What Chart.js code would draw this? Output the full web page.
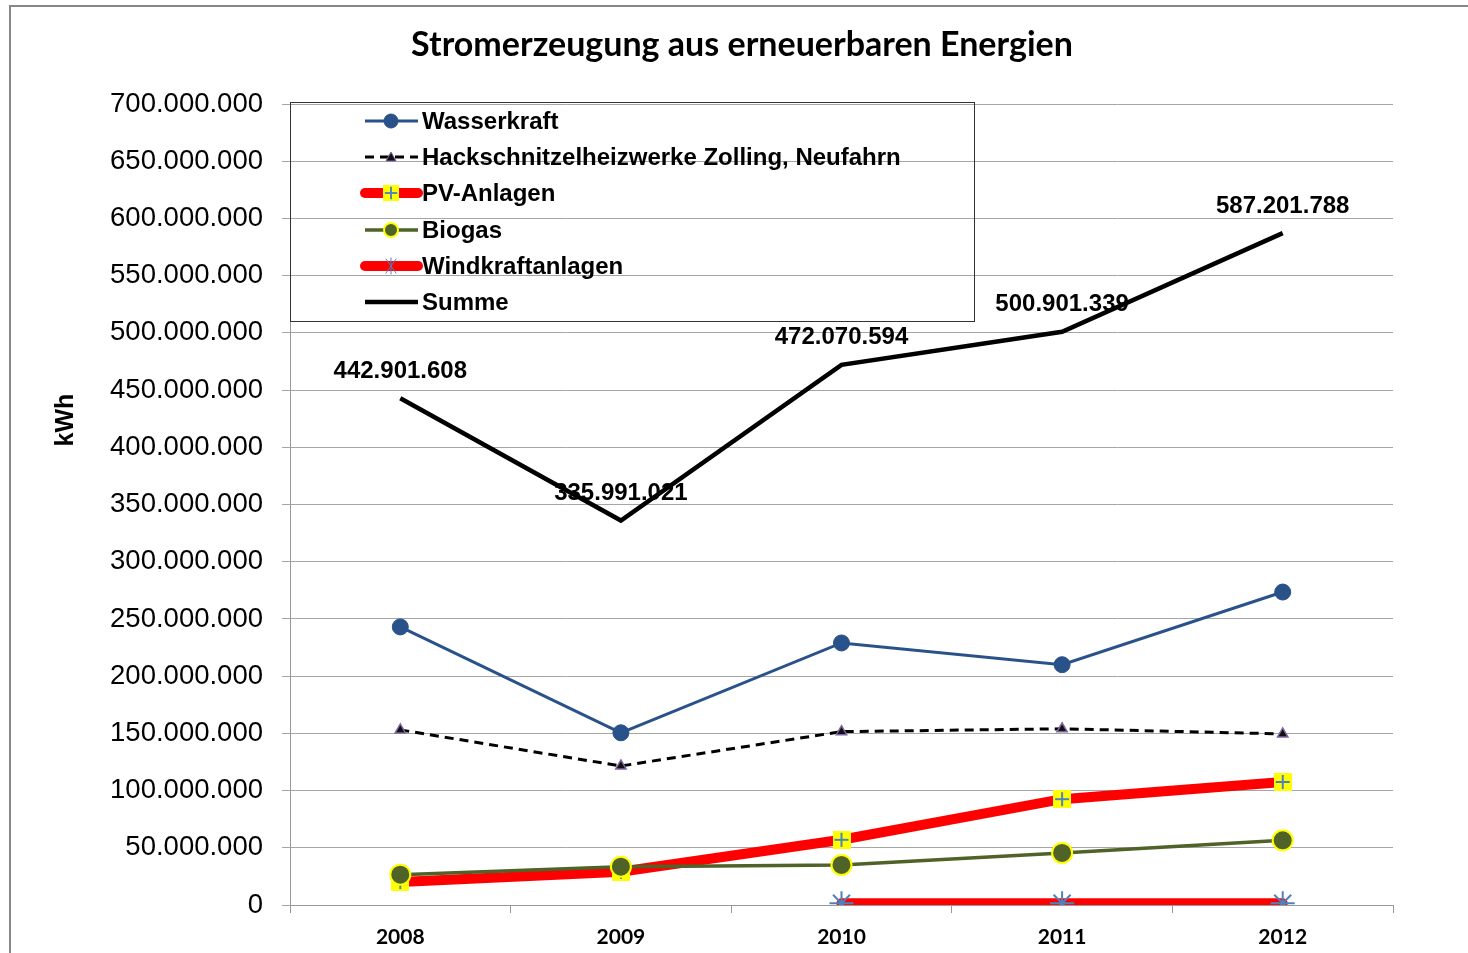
<!DOCTYPE html>
<html>
<head>
<meta charset="utf-8">
<script src="https://cdn.jsdelivr.net/npm/chart.js@4"></script>
<style>
  html, body { margin: 0; padding: 0; background: #fff; }
  #wrap { width: 1468px; height: 953px; }
</style>
</head>
<body>
<div id="wrap"><canvas id="lineChart" width="1468" height="953"></canvas></div>
<script>
// values
const years = ['2008', '2009', '2010', '2011', '2012'];
const wasserkraft = [243000000, 150500000, 229000000, 210000000, 273500000];
const hackschnitzel = [153000000, 121500000, 151500000, 154000000, 149500000];
const pvAnlagen = [20000000, 29000000, 57000000, 92500000, 107500000];
const biogas = [26500000, 33500000, 35000000, 45500000, 56500000];
const windkraft = [null, null, 1500000, 1500000, 1500000];
const summe = [442901608, 335991021, 472070594, 500901339, 587201788];
const yTicks = [0, 50000000, 100000000, 150000000, 200000000, 250000000, 300000000, 350000000,
  400000000, 450000000, 500000000, 550000000, 600000000, 650000000, 700000000];

const seriesNames = ['Wasserkraft', 'Hackschnitzelheizwerke Zolling, Neufahrn', 'PV-Anlagen', 'Biogas', 'Windkraftanlagen', 'Summe'];

function fmt(v) {
  return String(Math.round(v)).replace(/\B(?=(\d{3})+(?!\d))/g, '.');
}

// yellow square with blue plus (PV marker)
function pvMarker(size) {
  const c = document.createElement('canvas');
  c.width = size; c.height = size;
  const g = c.getContext('2d');
  g.fillStyle = '#ffff00';
  g.fillRect(0, 0, size, size);
  g.strokeStyle = '#4f81bd';
  g.lineWidth = 2;
  g.beginPath();
  g.moveTo(size / 2, 2); g.lineTo(size / 2, size - 2);
  g.moveTo(2, size / 2); g.lineTo(size - 2, size / 2);
  g.stroke();
  return c;
}
const pvPoint = pvMarker(18);

const BLUE = '#29528a';
const OLIVE = '#4f6228';

// frame, title, axis title, legend box and Summe labels
const extras = {
  id: 'extras',
  beforeDraw(chart) {
    const ctx = chart.ctx;
    ctx.save();
    ctx.fillStyle = '#fff';
    ctx.fillRect(0, 0, chart.width, chart.height);
    ctx.strokeStyle = '#888';
    ctx.lineWidth = 2;
    ctx.beginPath();
    ctx.moveTo(10, chart.height + 5);
    ctx.lineTo(10, 6);
    ctx.lineTo(chart.width + 5, 6);
    ctx.stroke();
    ctx.fillStyle = '#000';
    ctx.font = 'bold 34px Lato';
    ctx.textAlign = 'center';
    ctx.textBaseline = 'middle';
    ctx.fillText('Stromerzeugung aus erneuerbaren Energien', 742, 45);
    // y axis title
    ctx.translate(66, 420);
    ctx.rotate(-Math.PI / 2);
    ctx.font = 'bold 25px "Liberation Sans"';
    ctx.fillText('kWh', 0, 0);
    ctx.restore();
  },
  afterDatasetsDraw(chart) {
    const ctx = chart.ctx;
    ctx.save();
    // labels of Summe
    const meta = chart.getDatasetMeta(5);
    ctx.fillStyle = '#000';
    ctx.font = 'bold 24px "Liberation Sans"';
    ctx.textAlign = 'center';
    ctx.textBaseline = 'middle';
    meta.data.forEach((p, i) => {
      ctx.fillText(fmt(summe[i]), p.x, p.y - 27);
    });

    // legend
    const x0 = 290, y0 = 102, x1 = 974, y1 = 321;
    ctx.strokeStyle = '#333';
    ctx.lineWidth = 1;
    ctx.strokeRect(x0 + 0.5, y0 + 0.5, x1 - x0, y1 - y0);
    const rowY = [121, 157, 193, 230, 266, 302];
    const lx0 = 365, lx1 = 418, mx = 391;
    ctx.font = 'bold 24px "Liberation Sans"';
    ctx.textAlign = 'left';
    chart.data.datasets.forEach((ds, i) => {
      const y = rowY[i];
      ctx.save();
      ctx.strokeStyle = ds.borderColor;
      ctx.lineWidth = ds.borderWidth;
      ctx.lineCap = ds.borderWidth > 6 ? 'round' : 'butt';
      ctx.setLineDash(ds.borderDash || []);
      ctx.beginPath();
      ctx.moveTo(lx0, y); ctx.lineTo(lx1, y);
      ctx.stroke();
      ctx.setLineDash([]);
      if (i === 0 || i === 3) {
        ctx.beginPath();
        ctx.arc(mx, y, 7, 0, Math.PI * 2);
        ctx.fillStyle = ds.pointBackgroundColor;
        ctx.fill();
        ctx.lineWidth = ds.pointBorderWidth;
        ctx.strokeStyle = ds.pointBorderColor;
        ctx.stroke();
      } else if (i === 1) {
        ctx.beginPath();
        ctx.moveTo(mx, y - 5); ctx.lineTo(mx + 5, y + 4); ctx.lineTo(mx - 5, y + 4);
        ctx.closePath();
        ctx.fillStyle = ds.pointBackgroundColor;
        ctx.fill();
        ctx.lineWidth = 1;
        ctx.strokeStyle = ds.pointBorderColor;
        ctx.stroke();
      } else if (i === 2) {
        ctx.drawImage(pvPoint, mx - 8, y - 8, 16, 16);
      } else if (i === 4) {
        ctx.strokeStyle = '#4f81bd';
        ctx.lineWidth = 1;
        ctx.beginPath();
        ctx.moveTo(mx - 5, y - 7); ctx.lineTo(mx + 5, y + 7);
        ctx.moveTo(mx + 5, y - 7); ctx.lineTo(mx - 5, y + 7);
        ctx.moveTo(mx, y - 8); ctx.lineTo(mx, y + 8);
        ctx.stroke();
      }
      ctx.restore();
      ctx.fillStyle = '#000';
      ctx.fillText(seriesNames[i], 422, y + 1);
    });
    ctx.restore();
  }
};

const CHART = document.getElementById('lineChart');
const lineChart = new Chart(CHART, {
  type: 'line',
  data: {
    labels: years,
    datasets: [
      {
        label: seriesNames[0],
        data: wasserkraft,
        borderColor: BLUE,
        borderWidth: 3,
        pointStyle: 'circle',
        pointRadius: 8,
        pointBackgroundColor: BLUE,
        pointBorderColor: BLUE,
        pointBorderWidth: 1,
        order: 2
      },
      {
        label: seriesNames[1],
        data: hackschnitzel,
        borderColor: '#000',
        borderWidth: 3,
        borderDash: [9, 6],
        pointStyle: 'triangle',
        pointRadius: 6,
        pointBackgroundColor: '#111',
        pointBorderColor: '#8064a2',
        pointBorderWidth: 1.5,
        order: 3
      },
      {
        label: seriesNames[2],
        data: pvAnlagen,
        borderColor: '#ff0000',
        borderWidth: 10,
        pointStyle: pvPoint,
        pointRadius: 9,
        order: 5
      },
      {
        label: seriesNames[3],
        data: biogas,
        borderColor: OLIVE,
        borderWidth: 3.5,
        pointStyle: 'circle',
        pointRadius: 10,
        pointBackgroundColor: OLIVE,
        pointBorderColor: '#ffff00',
        pointBorderWidth: 2,
        order: 4
      },
      {
        label: seriesNames[4],
        data: windkraft,
        borderColor: '#ff0000',
        borderWidth: 10,
        borderCapStyle: 'round',
        pointStyle: 'star',
        pointRadius: 12,
        pointBorderColor: '#4f81bd',
        pointBorderWidth: 2,
        order: 6
      },
      {
        label: seriesNames[5],
        data: summe,
        borderColor: '#000',
        borderWidth: 4.5,
        pointRadius: 0,
        order: 1
      }
    ]
  },
  options: {
    responsive: false,
    animation: false,
    layout: { padding: { left: 0, top: 104, right: 75, bottom: 0 } },
    plugins: {
      legend: { display: false },
      title: { display: false },
      tooltip: { enabled: false }
    },
    elements: { line: { tension: 0 } },
    scales: {
      x: {
        offset: true,
        grid: {
          offset: true,
          drawOnChartArea: false,
          drawTicks: true,
          tickLength: 8,
          color: '#999'
        },
        border: { color: '#999', width: 1 },
        ticks: {
          color: '#000',
          font: { family: 'Lato', weight: 'bold', size: 21 },
          padding: 12
        },
        afterFit(scale) { scale.height = 48; }
      },
      y: {
        min: 0,
        max: 700000000,
        afterBuildTicks(scale) { scale.ticks = yTicks.map(v => ({ value: v })); },
        grid: { color: '#a6a6a6', tickLength: 8, lineWidth: 1 },
        border: { color: '#999', width: 1 },
        ticks: {
          color: '#000',
          font: { family: 'Liberation Sans', size: 27.5 },
          padding: 19,
          callback: v => fmt(v)
        },
        afterFit(scale) { scale.width = 290; }
      }
    }
  },
  plugins: [extras]
});
</script>
</body>
</html>
